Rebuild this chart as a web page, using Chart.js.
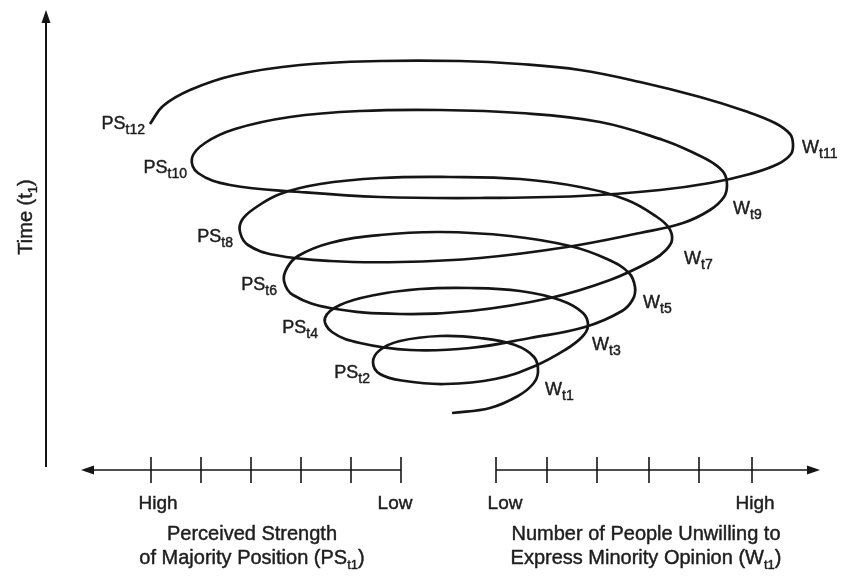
<!DOCTYPE html>
<html>
<head>
<meta charset="utf-8">
<script src="https://cdn.jsdelivr.net/npm/chart.js@4.4.0/dist/chart.umd.min.js"></script>
<style>
html,body{margin:0;padding:0;background:#ffffff;}
canvas{display:block;}
</style>
</head>
<body>
<canvas id="c" width="843" height="576"></canvas>
<script>
// ---------------- DATA ----------------
// Spiral path (x: opinion dimension, y: time)
const spiralX = [
  45.2, 49.0, 51.8, 53.3, 53.8,
  53.4, 51.5, 48.0, 44.0, 40.0, 38.0, 37.3,
  38.0, 40.5, 44.5, 49.5, 53.5, 56.5, 58.2, 58.8,
  58.3, 56.0, 52.0, 47.0, 42.0, 37.5, 34.0, 32.5,
  33.2, 36.0, 41.0, 47.0, 53.0, 58.5, 62.2, 63.3, 63.5,
  62.9, 60.7, 57.0, 51.0, 44.0, 38.0, 33.0, 29.8, 28.7, 28.4,
  29.3, 33.0, 40.0, 47.0, 55.0, 61.0, 65.3, 66.6, 67.2,
  66.9, 65.7, 62.7, 58.0, 52.0, 45.0, 38.0, 32.0, 28.0, 25.5, 24.2, 24.0,
  24.8, 27.5, 33.0, 40.0, 48.0, 56.7, 64.0, 68.3, 71.0, 72.4, 72.7,
  72.4, 71.3, 69.4, 66.3, 60.0, 52.0, 44.0, 36.0, 29.0, 23.5, 20.5, 19.2,
  19.8, 23.0, 30.0, 38.0, 48.0, 58.0, 66.0, 71.0, 75.0, 77.8, 79.1, 79.3,
  79.0, 77.5, 74.5, 70.0, 64.0, 58.0, 52.0, 46.0, 38.0, 30.0, 23.5, 19.0, 16.3, 15.0
];
const spiralY = [
  16.3, 16.8, 18.0, 19.2, 20.4,
  21.9, 23.1, 23.8, 24.0, 23.5, 22.6, 21.4,
  20.2, 19.5, 19.2, 19.7, 21.0, 22.6, 23.9, 25.0,
  26.3, 27.6, 28.5, 28.8, 28.7, 28.1, 27.1, 25.8,
  24.4, 23.3, 22.6, 22.8, 23.8, 24.9, 26.5, 27.7, 28.9,
  30.3, 31.7, 33.0, 34.0, 34.4, 34.1, 33.3, 32.0, 30.8, 29.5,
  28.1, 26.8, 26.2, 26.5, 27.8, 29.6, 31.6, 32.6, 33.6,
  34.8, 35.9, 37.6, 38.9, 39.7, 39.9, 39.8, 39.2, 38.2, 36.8, 35.6, 34.4,
  33.1, 32.1, 31.5, 31.4, 31.8, 32.9, 34.3, 35.3, 36.6, 37.9, 39.1,
  40.3, 41.3, 42.3, 43.6, 45.4, 46.3, 46.6, 46.5, 45.9, 44.7, 43.3, 41.8,
  40.3, 39.1, 38.4, 37.9, 37.8, 38.0, 38.6, 39.3, 40.2, 41.2, 42.2, 43.2,
  44.2, 45.3, 46.5, 47.9, 49.4, 50.6, 51.2, 51.5, 51.5, 51.1, 50.1, 48.6, 47.0, 45.2
];

// Names of the turning points of the spiral, in order (last = end point)
const turnNames = ['W','PS','W','PS','W','PS','W','PS','W','PS','W','PS'];
const turnSubs  = ['t1','t2','t3','t4','t5','t6','t7','t8','t9','t10','t11','t12'];

// Bottom axes
const psTicks = [15.1, 20.1, 25.1, 30.1, 35.1, 40.1];
const psTickLabels = ['High', '', '', '', '', 'Low'];
const wTicks = [49.6, 54.7, 59.7, 64.9, 69.9, 75.2];
const wTickLabels = ['Low', '', '', '', '', 'High'];

const psTitle = [[{t:'Perceived Strength'}], [{t:'of Majority Position (PS'},{t:'t1',sub:true},{t:')'}]];
const wTitle  = [[{t:'Number of People Unwilling to'}], [{t:'Express Minority Opinion (W'},{t:'t1',sub:true},{t:')'}]];
const timeTitle = [{t:'Time (t'},{t:'1',sub:true},{t:')'}];

// ---------------- LAYOUT (positions / styles) ----------------
const FONT = '"Liberation Sans", Arial, Helvetica, sans-serif';
const INK = '#151515';
const L = {
  xMin: 0, xMax: 84.3, yMin: 0, yMax: 57.6,
  axisY: 10.6,
  psAxisTip: 8.1, wAxisTip: 82.0,
  timeX: 4.6, timeBottom: 10.9, timeTip: 56.6,
  tickHalf: 13, arrowLen: 13, arrowHalf: 4.5,
  tickLabelY: 6.7,
  psTickShift: [7,0,0,0,0,-6],
  wTickShift: [9,0,0,0,0,3],
  titleY: [3.6, 1.2],
  psTitleX: 25.2, wTitleX: 64.6,
  timeLabelX: 3.2, timeLabelY: 35.9,
  textStroke: 0.45,
  // pixel offsets of each turn label from its turning point
  turnOffsets: [[7,23],[-3,16],[4,24],[-7,15],[8,21],[-7,9],[12,24],[-7,10],[6,29],[-5,15],[9,9],[-5,5]]
};

function drawRich(ctx, segs, x, y, align, size, subSize, drop) {
  let widths = segs.map(s => { ctx.font = (s.sub ? subSize : size) + 'px ' + FONT; return ctx.measureText(s.t).width; });
  const total = widths.reduce((a,b)=>a+b,0);
  let sx = align === 'right' ? x - total : (align === 'center' ? x - total/2 : x);
  ctx.textAlign = 'left';
  ctx.textBaseline = 'alphabetic';
  ctx.lineWidth = L.textStroke;
  ctx.lineJoin = 'round';
  segs.forEach((s,i) => {
    ctx.font = (s.sub ? subSize : size) + 'px ' + FONT;
    const yy = y + (s.sub ? drop : 0);
    ctx.fillText(s.t, sx, yy);
    ctx.strokeText(s.t, sx, yy);
    sx += widths[i];
  });
}

const decor = {
  id: 'decor',
  afterDatasetsDraw(chart) {
    const ctx = chart.ctx;
    const xs = chart.scales.x, ys = chart.scales.y;
    const px = v => xs.getPixelForValue(v), py = v => ys.getPixelForValue(v);
    ctx.save();
    ctx.strokeStyle = INK; ctx.fillStyle = INK;
    ctx.lineCap = 'butt';

    // vertical time axis
    const tx = px(L.timeX), tTop = py(L.timeTip);
    ctx.lineWidth = 2;
    ctx.beginPath(); ctx.moveTo(tx, py(L.timeBottom)); ctx.lineTo(tx, tTop + L.arrowLen - 2); ctx.stroke();
    ctx.beginPath(); ctx.moveTo(tx, tTop); ctx.lineTo(tx - L.arrowHalf, tTop + L.arrowLen); ctx.lineTo(tx + L.arrowHalf, tTop + L.arrowLen); ctx.closePath(); ctx.fill();

    // horizontal axes
    const ay = py(L.axisY);
    ctx.lineWidth = 1.6;
    const pTip = px(L.psAxisTip);
    ctx.beginPath(); ctx.moveTo(px(psTicks[psTicks.length-1]), ay); ctx.lineTo(pTip + L.arrowLen - 2, ay); ctx.stroke();
    ctx.beginPath(); ctx.moveTo(pTip, ay); ctx.lineTo(pTip + L.arrowLen, ay - L.arrowHalf); ctx.lineTo(pTip + L.arrowLen, ay + L.arrowHalf); ctx.closePath(); ctx.fill();
    psTicks.forEach(v => { ctx.beginPath(); ctx.moveTo(px(v), ay - L.tickHalf); ctx.lineTo(px(v), ay + L.tickHalf); ctx.stroke(); });
    const wTip = px(L.wAxisTip);
    ctx.beginPath(); ctx.moveTo(px(wTicks[0]), ay); ctx.lineTo(wTip - L.arrowLen + 2, ay); ctx.stroke();
    ctx.beginPath(); ctx.moveTo(wTip, ay); ctx.lineTo(wTip - L.arrowLen, ay - L.arrowHalf); ctx.lineTo(wTip - L.arrowLen, ay + L.arrowHalf); ctx.closePath(); ctx.fill();
    wTicks.forEach(v => { ctx.beginPath(); ctx.moveTo(px(v), ay - L.tickHalf); ctx.lineTo(px(v), ay + L.tickHalf); ctx.stroke(); });

    // tick labels
    ctx.fillStyle = '#1e1e1e'; ctx.strokeStyle = '#1e1e1e';
    const tly = py(L.tickLabelY);
    psTicks.forEach((v,i) => { if (psTickLabels[i]) drawRich(ctx, [{t:psTickLabels[i]}], px(v) + L.psTickShift[i], tly, 'center', 19, 13, 5); });
    wTicks.forEach((v,i) => { if (wTickLabels[i]) drawRich(ctx, [{t:wTickLabels[i]}], px(v) + L.wTickShift[i], tly, 'center', 19, 13, 5); });

    // axis titles
    psTitle.forEach((line,i) => drawRich(ctx, line, px(L.psTitleX), py(L.titleY[i]), 'center', 20, 13, 5));
    wTitle.forEach((line,i) => drawRich(ctx, line, px(L.wTitleX), py(L.titleY[i]), 'center', 20, 13, 5));

    // time title (rotated)
    ctx.save();
    ctx.translate(px(L.timeLabelX), py(L.timeLabelY));
    ctx.rotate(-Math.PI/2);
    drawRich(ctx, timeTitle, 0, 0, 'center', 20, 13, 5);
    ctx.restore();

    // turning point labels
    const turns = [];
    for (let i = 1; i < spiralX.length - 1; i++) {
      if ((spiralX[i]-spiralX[i-1]) * (spiralX[i+1]-spiralX[i]) < 0) turns.push(i);
    }
    turns.push(spiralX.length - 1);
    turns.forEach((idx, k) => {
      if (k >= turnNames.length) return;
      const off = L.turnOffsets[k];
      const isW = turnNames[k] === 'W';
      drawRich(ctx, [{t:turnNames[k]},{t:turnSubs[k],sub:true}], px(spiralX[idx]) + off[0], py(spiralY[idx]) + off[1], isW ? 'left' : 'right', 18, 14, 5);
    });
    ctx.restore();
  }
};

const bgPlugin = {
  id: 'bg',
  beforeDraw(chart) { const c = chart.ctx; c.save(); c.fillStyle = '#ffffff'; c.fillRect(0,0,chart.width,chart.height); c.restore(); }
};

new Chart(document.getElementById('c'), {
  type: 'scatter',
  data: {
    datasets: [{
      data: spiralX.map((x,i) => ({x: x, y: spiralY[i]})),
      showLine: true,
      tension: 0.4,
      borderColor: INK,
      borderWidth: 2.7,
      pointRadius: 0,
      fill: false
    }]
  },
  options: {
    responsive: false,
    devicePixelRatio: 1,
    animation: false,
    layout: { padding: 0 },
    plugins: { legend: { display: false }, tooltip: { enabled: false } },
    scales: {
      x: { type: 'linear', min: L.xMin, max: L.xMax, display: false },
      y: { type: 'linear', min: L.yMin, max: L.yMax, display: false }
    }
  },
  plugins: [bgPlugin, decor]
});
</script>
</body>
</html>
